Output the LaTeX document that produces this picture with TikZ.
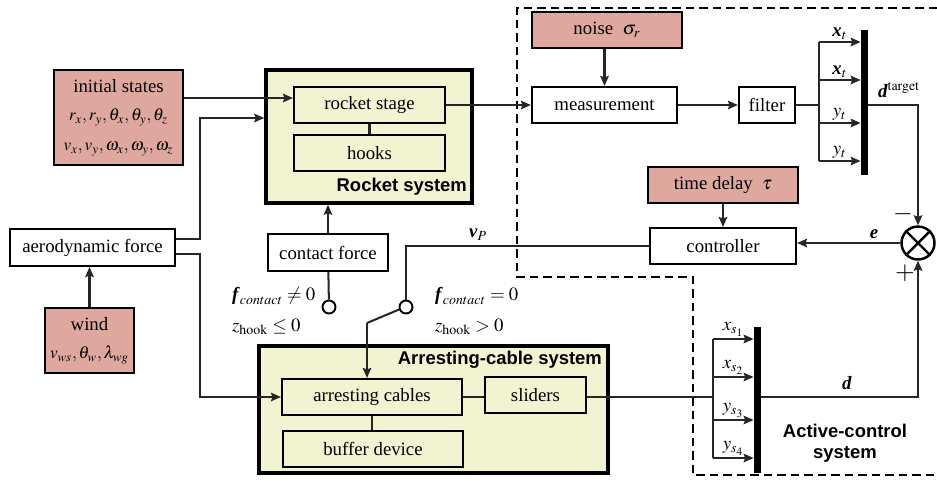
\documentclass[tikz,border=0pt]{standalone}
\usepackage{mathptmx}
\usepackage{fontspec}
\setmainfont{Liberation Serif}
\setsansfont{Liberation Sans}
\usetikzlibrary{arrows.meta}

\definecolor{pinkbox}{RGB}{222,168,158}
\definecolor{sysfill}{RGB}{242,243,208}
\newcommand{\blkfont}{\fontsize{10.7}{13}\selectfont}
\newcommand{\varfont}{\fontsize{9.8}{12}\selectfont}

\tikzset{
  blk/.style={draw, line width=1.2pt, minimum height=0.72cm, inner sep=1pt, font=\blkfont},
  pblk/.style={blk, fill=pinkbox},
  yblk/.style={blk, fill=sysfill},
  sysbox/.style={draw, line width=2pt, fill=sysfill, inner sep=0pt},
  systitle/.style={font=\sffamily\bfseries\fontsize{10.5}{12}\selectfont, inner sep=1pt},
  swcirc/.style={draw, circle, line width=1.1pt, minimum size=0.26cm, inner sep=0pt, fill=white},
  busbar/.style={fill=black, minimum width=0.14cm, inner sep=0pt},
  sumnode/.style={draw, circle, line width=1.4pt, minimum size=0.66cm, inner sep=0pt},
  ln/.style={line width=1.15pt, draw=black!85},
  arr/.style={ln, -{Stealth[length=2mm, width=1.7mm, inset=0.3mm]}},
  lbl/.style={font=\blkfont, inner sep=1pt},
  dashbox/.style={line width=0.9pt, dash pattern=on 1.7mm off 1mm}
}

\begin{document}
\begin{tikzpicture}[x=0.02cm, y=-0.02cm]
\useasboundingbox (0,0) rectangle (937,481);

\draw[dashbox] (937,8) -- (517,8) -- (517,277) -- (693,277) -- (693,475) -- (937,475);

\node[sysbox, minimum width=4.12cm, minimum height=2.66cm] (rocket) at (369,136.5) {};
\node[sysbox, minimum width=6.98cm, minimum height=2.54cm] (arrest) at (433.5,409.5) {};
\node[systitle, anchor=east] (rockettxt) at (469,187) {Rocket system};
\node[systitle, anchor=east] (arresttxt) at (604,360) {Arresting-cable system};

\node[yblk, minimum width=3.02cm] (stage) at (369.5,105) {rocket stage};
\node[yblk, minimum width=3.02cm] (hooks) at (369.5,153) {hooks};
\node[yblk, minimum width=3.6cm] (cables) at (372,397) {arresting cables};
\node[yblk, minimum width=2.02cm] (sliders) at (535.5,395) {sliders};
\node[yblk, minimum width=3.6cm] (buffer) at (373,449) {buffer device};

\node[pblk, minimum width=2.58cm, minimum height=1.9cm, align=center] (init) at (118.5,117.5)
  {initial states\\[3pt] \varfont $r_x,r_y,\theta_x,\theta_y,\theta_z$\\[4pt] \varfont $v_x,v_y,\omega_x,\omega_y,\omega_z$};
\node[blk, minimum width=3.3cm, minimum height=0.74cm] (aero) at (92.5,247.5) {aerodynamic force};
\node[pblk, minimum width=1.78cm, minimum height=1.3cm, align=center] (wind) at (89.5,340.5)
  {wind\\[3pt] \varfont $v_{ws},\theta_w,\lambda_{wg}$};
\node[blk, minimum width=2.4cm, minimum height=0.74cm] (contact) at (328,252.5) {contact force};
\node[swcirc] (c1) at (329,307) {};
\node[swcirc] (c2) at (406,307) {};
\coordinate (swk) at (367,323);

\node[pblk, minimum width=3cm] (noise) at (607,30) {noise\ \ $\sigma_r$};
\node[blk, minimum width=2.9cm] (meas) at (604.5,105) {measurement};
\node[blk, minimum width=1.12cm] (filter) at (767,105) {filter};
\node[pblk, minimum width=3cm] (tdelay) at (723,185) {time delay\ \ $\tau$};
\node[blk, minimum width=2.92cm] (ctrl) at (723,246) {controller};
\node[sumnode] (sum) at (918,243) {};
\node[busbar, minimum height=2.9cm] (bar1) at (864.5,102.5) {};
\node[busbar, minimum height=2.92cm] (bar2) at (757.5,400) {};
\coordinate (fork1) at (819,105);
\coordinate (fork2) at (713,397);

\draw[arr] ([yshift=0.39cm]init.east) -- ([yshift=0.39cm]init.east -| stage.west);
\draw[arr] ([yshift=0.17cm]aero.east) -- ++(24,0) |- ([yshift=0.37cm]rocket.west);
\draw[arr] ([yshift=-0.13cm]aero.east) -- ++(24,0) |- (cables.west);
\draw[arr] (wind.north) -- (wind.north |- aero.south);
\draw[arr] (contact.north) -- (contact.north |- rocket.south);
\draw[ln] (stage) -- (hooks);
\draw[ln] (contact) -- (c1);
\draw[ln] (ctrl.west) -| (c2.north);
\draw[ln] (c2.200) -- (swk);
\draw[arr] (swk) -- (swk |- cables.north);
\draw[ln] (cables.east) -- (cables.east -| sliders.west);
\draw[ln] (cables.south) -- (cables.south |- buffer.north);
\draw[ln] (sliders.east |- fork2) -- (fork2);
\draw[ln] (fork2 |- 0,339) -- (fork2 |- 0,458);
\foreach \yy/\lab [count=\i] in {339/x_{s_1},377/x_{s_2},420/y_{s_3},458/y_{s_4}}
  \draw[arr] (fork2 |- 0,\yy) -- (bar2.west |- 0,\yy) node[lbl, midway, above] (ls\i) {$\lab$};
\draw[arr] (bar2.east |- fork2) -| (sum.south);

\draw[arr] (stage.east) -- (meas.west);
\draw[arr] (noise.south -| meas.north) -- (meas.north);
\draw[arr] (meas) -- (filter);
\draw[ln] (filter.east) -- (fork1);
\draw[ln] (fork1 |- 0,42) -- (fork1 |- 0,161);
\foreach \yy/\lab [count=\i] in {42/\textbf{\textit{x}}_t,80/\textbf{\textit{x}}_t,123/y_t,161/y_t}
  \draw[arr] (fork1 |- 0,\yy) -- (bar1.west |- 0,\yy) node[lbl, midway, above] (lt\i) {$\lab$};
\draw[arr] (bar1.east |- fork1) -| (sum.north);
\draw[arr] (sum.west) -- (sum.west -| ctrl.east);
\draw[arr] (tdelay) -- (ctrl);
\draw[line width=1.4pt] (sum.45) -- (sum.225) (sum.135) -- (sum.315);

\node[lbl] (vp) at (478,235) {$\textbf{\textit{v}}_P$};
\node[lbl] (elab) at (874,234) {$\textbf{\textit{e}}$};
\node[lbl] (dlab) at (847,383) {$\textbf{\textit{d}}$};
\node[lbl] (dtar) at (899,90) {$\textbf{\textit{d}}^{\mathrm{target}}$};
\node[lbl, font=\Large] (minus) at (903,214) {$-$};
\node[lbl, font=\Large] (plus) at (905,273) {$+$};
\node[lbl, anchor=west] (fc1) at (230,296) {$\textbf{\textit{f}}_{contact}\neq 0$};
\node[lbl, anchor=west] (zh1) at (230,327) {$z_{\mathrm{hook}}\leq 0$};
\node[lbl, anchor=west] (fc2) at (433,296) {$\textbf{\textit{f}}_{contact}=0$};
\node[lbl, anchor=west] (zh2) at (433,327) {$z_{\mathrm{hook}}>0$};
\node[systitle, align=center] (acttxt) at (845,443) {Active-control\\system};

\end{tikzpicture}
\end{document}
